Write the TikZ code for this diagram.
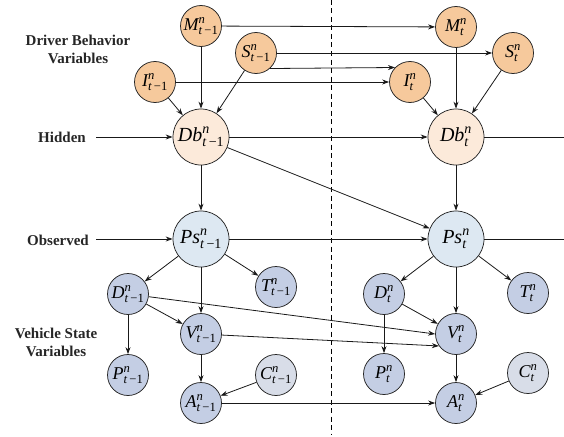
\documentclass[tikz,border=0pt]{standalone}
\usepackage{amsmath}
\usepackage{fontspec}
\setmainfont{Liberation Serif}
\usetikzlibrary{arrows.meta}
\definecolor{orgfill}{RGB}{246,201,156}
\definecolor{dbfill}{RGB}{252,234,218}
\definecolor{psfill}{RGB}{221,232,242}
\definecolor{vsfill}{RGB}{196,206,228}
\definecolor{cfill}{RGB}{216,221,232}
\newcommand{\vprev}[1]{$\text{\itshape #1}^{\text{\itshape n}}_{\text{\itshape t\/\upshape\,−1}}$}
\newcommand{\vcur}[1]{$\text{\itshape #1}^{\text{\itshape n}}_{\text{\itshape t}}$}
\tikzset{
  var/.style={circle, draw=black!85, line width=0.75pt, minimum size=41pt, inner sep=0pt, font=\fontsize{18}{18}\selectfont},
  bigvar/.style={var, minimum size=56pt, font=\fontsize{20}{20}\selectfont},
  drv/.style={var, fill=orgfill},
  dbv/.style={bigvar, fill=dbfill},
  psv/.style={bigvar, fill=psfill},
  vsv/.style={var, fill=vsfill},
  cv/.style={var, fill=cfill},
  arr/.style={-{Stealth[length=7pt,width=5pt]}, line width=0.8pt, draw=black!90},
  ln/.style={line width=0.8pt, draw=black!90},
  lab/.style={font=\fontsize{15}{18}\selectfont\bfseries, align=center, inner sep=0pt, text=black!85}
}
\begin{document}
\begin{tikzpicture}[x=1pt,y=-1pt]
\useasboundingbox (0,0) rectangle (564,436);
% dashed separator
\coordinate (dtop) at (331,0);
\coordinate (dbot) at (331,434);
\draw[dashed, line width=0.6pt, dash pattern=on 5pt off 3.5pt] (dtop) -- (dbot);

% labels
\node[lab] (lbldrv) at (78,49) {Driver Behavior\\Variables};
\node[lab] (lblhid) at (62,137) {Hidden};
\node[lab] (lblobs) at (58,240) {Observed};
\node[lab] (lblveh) at (56,342) {Vehicle State\\Variables};
\coordinate (hidA) at (96,137);
\coordinate (obsA) at (96,239);
\coordinate (dbend) at (564,137);
\coordinate (psend) at (564,239);

% left slice
\node[drv] (M1) at (201,26) {\vprev{M}};
\node[drv] (S1) at (256,53) {\vprev{S}};
\node[drv] (I1) at (155,82) {\vprev{I}};
\node[dbv] (Db1) at (201,137) {\vprev{Db}};
\node[psv] (Ps1) at (201,239) {\vprev{Ps}};
\node[vsv] (D1) at (128,294) {\vprev{D}};
\node[vsv] (T1) at (276,287) {\vprev{T}};
\node[vsv] (V1) at (201,334) {\vprev{V}};
\node[vsv] (P1) at (128,375) {\vprev{P}};
\node[cv]  (C1) at (276,375) {\vprev{C}};
\node[vsv] (A1) at (201,403) {\vprev{A}};

% right slice
\node[drv] (M2) at (456,27) {\vcur{M}};
\node[drv] (S2) at (513,53) {\vcur{S}};
\node[drv] (I2) at (410,82) {\vcur{I}};
\node[dbv] (Db2) at (456,137) {\vcur{Db}};
\node[psv] (Ps2) at (456,239) {\vcur{Ps}};
\node[vsv] (D2) at (384,294) {\vcur{D}};
\node[vsv] (T2) at (528,293) {\vcur{T}};
\node[vsv] (V2) at (456,334) {\vcur{V}};
\node[vsv] (P2) at (384,374) {\vcur{P}};
\node[cv]  (C2) at (528,373) {\vcur{C}};
\node[vsv] (A2) at (456,403) {\vcur{A}};

% intra-slice edges
\foreach \k in {1,2}{
  \draw[arr] (I\k) -- (Db\k);
  \draw[arr] (M\k) -- (Db\k);
  \draw[arr] (S\k) -- (Db\k);
  \draw[arr] (Db\k) -- (Ps\k);
  \draw[arr] (Ps\k) -- (D\k);
  \draw[arr] (Ps\k) -- (T\k);
  \draw[arr] (Ps\k) -- (V\k);
  \draw[arr] (D\k) -- (V\k);
  \draw[arr] (D\k) -- (P\k);
  \draw[arr] (V\k) -- (A\k);
  \draw[arr] (C\k) -- (A\k);
}

% inter-slice edges
\draw[arr] (M1) -- (M2);
\draw[arr] (S1) -- (S2);
\draw[arr] (S1.-48) -- (I2.136);
\draw[arr] (I1) -- (I2);
\draw[arr] (hidA) -- (Db1);
\draw[arr] (Db1) -- (Db2);
\draw[ln] (Db2) -- (dbend);
\draw[arr] (Db1) -- (Ps2);
\draw[arr] (obsA) -- (Ps1);
\draw[arr] (Ps1) -- (Ps2);
\draw[ln] (Ps2) -- (psend);
\draw[arr] (D1) -- (V2.180);
\draw[arr] (V1) -- (V2.215);
\draw[arr] (A1) -- (A2);
\end{tikzpicture}
\end{document}
